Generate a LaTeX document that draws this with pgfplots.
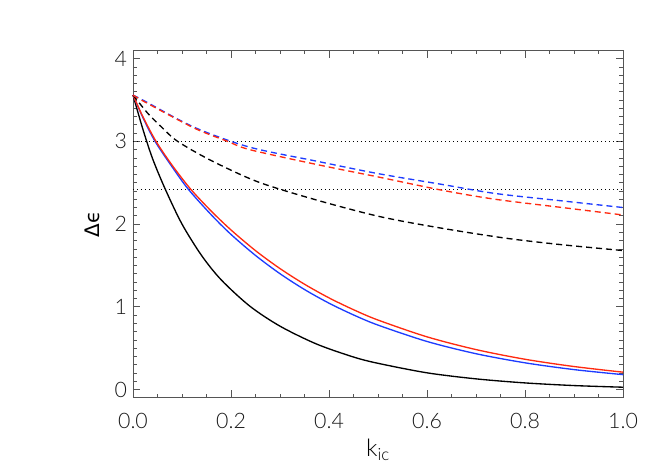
\documentclass[border=0pt]{standalone}
\usepackage{fontspec}
\IfFontExistsTF{Lato Light}{\setmainfont{Lato Light}}{\setmainfont{DejaVu Sans}}
\newfontfamily\greekfont{DejaVu Sans}
\usepackage{pgfplots}
\pgfplotsset{compat=1.18}

\definecolor{cred}{HTML}{FF2A10}
\definecolor{cblue}{HTML}{1E3CFF}
\definecolor{axgray}{HTML}{555555}

\begin{document}
\begin{tikzpicture}
\begin{axis}[
    at={(0,0)}, anchor=origin,
    scale only axis,
    width=367.5pt, height=260.6pt,
    xmin=0, xmax=1,
    ymin=-0.1, ymax=4.1,
    xtick={0,0.2,0.4,0.6,0.8,1.0},
    xticklabels={0.0,0.2,0.4,0.6,0.8,1.0},
    ytick={0,1,2,3,4},
    minor x tick num=3,
    minor y tick num=9,
    tick align=inside,
    major tick length=5.5pt,
    minor tick length=3pt,
    axis line style={axgray, line width=0.6pt},
    every tick/.style={axgray, line width=0.5pt},
    tick label style={font=\fontsize{16}{19}\selectfont, text=black!90},
    /pgf/number format/assume math mode=true,
    xticklabel style={yshift=-8pt},
    yticklabel style={xshift=-1pt},
    xlabel={k\textsubscript{ic}},
    ylabel={{\greekfont Δϵ}},
    xlabel style={font=\fontsize{18}{21}\selectfont, yshift=-1pt},
    ylabel style={font=\fontsize{15}{18}\selectfont, yshift=4pt},
    clip=false,
]
% dotted reference levels
\addplot[black, line width=0.9pt, dash pattern=on 0.9pt off 2.1pt] coordinates {(0,3.0) (1,3.0)};
\addplot[black, line width=0.9pt, dash pattern=on 0.9pt off 2.1pt] coordinates {(0,2.42) (1,2.42)};

% solid curves
\addplot[black, line width=1pt, smooth] coordinates {
(0,3.56) (0.02,3.15) (0.04,2.79) (0.066,2.42) (0.10,2.00) (0.14,1.62)
(0.18,1.326) (0.238,1.01) (0.30,0.766) (0.375,0.549) (0.45,0.393)
(0.50,0.317) (0.60,0.202) (0.70,0.129) (0.80,0.080) (0.90,0.048) (1.0,0.028)
};
\addplot[cblue, line width=1pt, smooth] coordinates {
(0,3.56) (0.02,3.29) (0.045,3.00) (0.08,2.69) (0.113,2.42) (0.16,2.11)
(0.20,1.875) (0.25,1.621) (0.30,1.40) (0.35,1.209) (0.40,1.044)
(0.45,0.902) (0.50,0.779) (0.60,0.581) (0.70,0.433) (0.80,0.323)
(0.90,0.241) (1.0,0.180)
};
\addplot[cred, line width=1pt, smooth] coordinates {
(0,3.56) (0.02,3.30) (0.047,3.00) (0.08,2.71) (0.118,2.42) (0.16,2.155)
(0.20,1.929) (0.25,1.679) (0.30,1.462) (0.35,1.273) (0.40,1.108)
(0.45,0.965) (0.50,0.840) (0.60,0.637) (0.70,0.483) (0.80,0.366)
(0.90,0.278) (1.0,0.210)
};

% dashed curves
\addplot[black, line width=1pt, smooth, dash pattern=on 4.5pt off 3pt] coordinates {
(0,3.56) (0.03,3.34) (0.057,3.18) (0.091,3.0) (0.159,2.77) (0.255,2.51)
(0.375,2.29) (0.504,2.09) (0.630,1.95) (0.760,1.83) (0.876,1.75) (1.0,1.68)
};
\addplot[cblue, line width=1pt, smooth, dash pattern=on 4.5pt off 3pt] coordinates {
(0,3.56) (0.026,3.48) (0.125,3.17) (0.238,2.93) (0.375,2.76) (0.50,2.61)
(0.630,2.48) (0.739,2.37) (0.876,2.28) (1.0,2.20)
};
\addplot[cred, line width=1pt, smooth, dash pattern=on 4.5pt off 3pt] coordinates {
(0,3.56) (0.026,3.47) (0.125,3.16) (0.193,3.0) (0.238,2.90) (0.375,2.72)
(0.50,2.57) (0.630,2.41) (0.739,2.30) (0.876,2.20) (1.0,2.11)
};
\end{axis}
\path[use as bounding box] (-99.75pt,-64.1pt) rectangle (398.25pt,292.15pt);
\end{tikzpicture}
\end{document}
